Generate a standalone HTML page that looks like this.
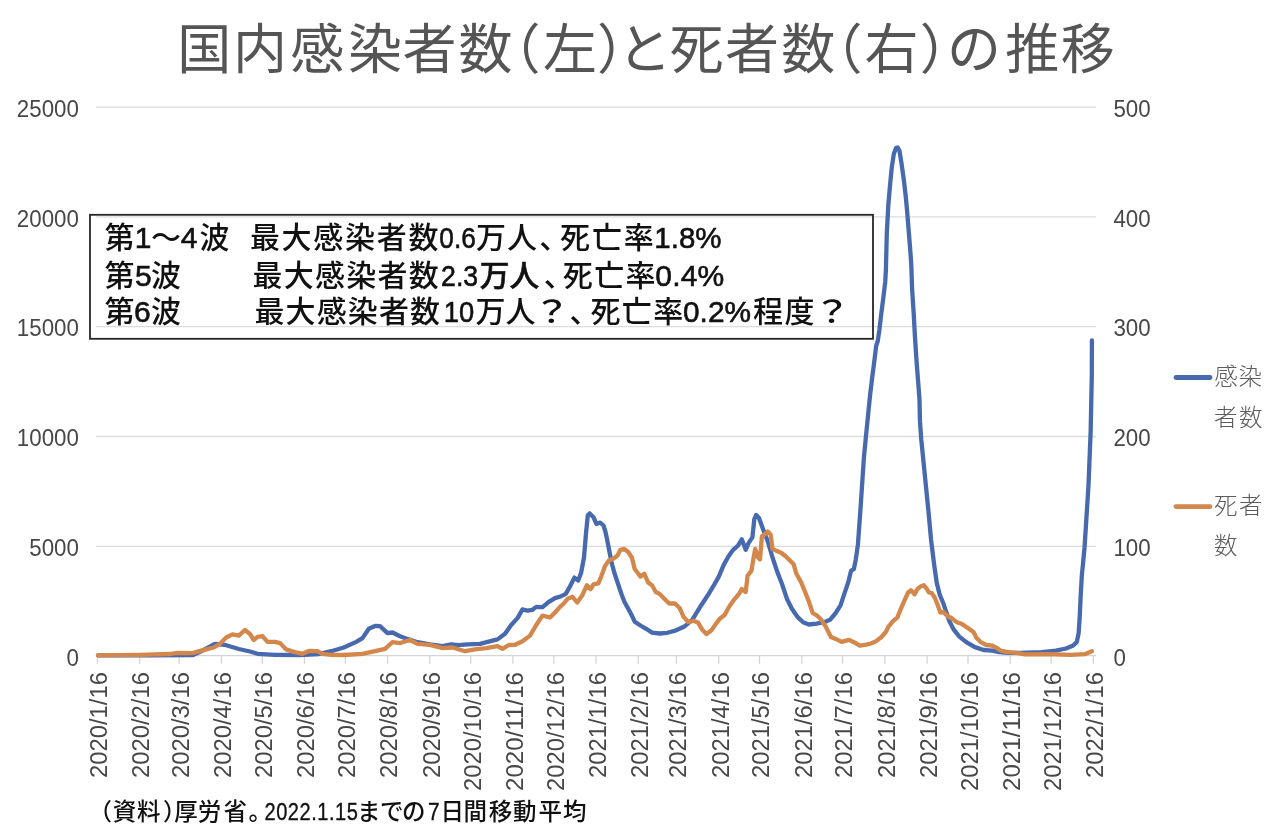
<!DOCTYPE html>
<html><head><meta charset="utf-8"><style>
html,body{margin:0;padding:0;background:#fff;width:1280px;height:835px;overflow:hidden}
svg{display:block}
.t{font-family:"Liberation Sans","Noto Sans CJK JP",sans-serif}
</style></head><body>
<svg width="1280" height="835" viewBox="0 0 1280 835">
<rect width="1280" height="835" fill="#fff"/>
<g stroke="#dcdcdc" stroke-width="1.3"><line x1="96" y1="546.3" x2="1096" y2="546.3"/><line x1="96" y1="436.5" x2="1096" y2="436.5"/><line x1="96" y1="326.7" x2="1096" y2="326.7"/><line x1="96" y1="216.9" x2="1096" y2="216.9"/><line x1="96" y1="107.1" x2="1096" y2="107.1"/></g>
<g stroke="#d4d4d4" stroke-width="1.3"><line x1="96" y1="655.7" x2="1096" y2="655.7"/><line x1="97.4" y1="656.1" x2="97.4" y2="663.8"/><line x1="139.6" y1="656.1" x2="139.6" y2="663.8"/><line x1="179.1" y1="656.1" x2="179.1" y2="663.8"/><line x1="221.4" y1="656.1" x2="221.4" y2="663.8"/><line x1="262.3" y1="656.1" x2="262.3" y2="663.8"/><line x1="304.5" y1="656.1" x2="304.5" y2="663.8"/><line x1="345.4" y1="656.1" x2="345.4" y2="663.8"/><line x1="387.6" y1="656.1" x2="387.6" y2="663.8"/><line x1="429.8" y1="656.1" x2="429.8" y2="663.8"/><line x1="470.7" y1="656.1" x2="470.7" y2="663.8"/><line x1="512.9" y1="656.1" x2="512.9" y2="663.8"/><line x1="553.8" y1="656.1" x2="553.8" y2="663.8"/><line x1="596.0" y1="656.1" x2="596.0" y2="663.8"/><line x1="638.3" y1="656.1" x2="638.3" y2="663.8"/><line x1="676.4" y1="656.1" x2="676.4" y2="663.8"/><line x1="718.7" y1="656.1" x2="718.7" y2="663.8"/><line x1="759.5" y1="656.1" x2="759.5" y2="663.8"/><line x1="801.8" y1="656.1" x2="801.8" y2="663.8"/><line x1="842.6" y1="656.1" x2="842.6" y2="663.8"/><line x1="884.9" y1="656.1" x2="884.9" y2="663.8"/><line x1="927.1" y1="656.1" x2="927.1" y2="663.8"/><line x1="968.0" y1="656.1" x2="968.0" y2="663.8"/><line x1="1010.2" y1="656.1" x2="1010.2" y2="663.8"/><line x1="1051.1" y1="656.1" x2="1051.1" y2="663.8"/><line x1="1093.3" y1="656.1" x2="1093.3" y2="663.8"/></g>
<g class="t" font-family="'Liberation Sans','Noto Sans CJK JP',sans-serif" font-size="54" fill="#555"><text y="68.7" x="177.2 233.0 290.3 348.0 402.4 458.5 486.5 542.9 597.0 617.6 669.5 725.0 781.3 808.6 864.5 919.7 947.0 1005.3 1060.8">国内感染者数（左）と死者数（右）の推移</text></g>
<g class="t" font-size="24" fill="#474747"><text transform="translate(78.9,665.8) scale(0.93,1)" text-anchor="end">0</text><text transform="translate(78.9,556.0) scale(0.93,1)" text-anchor="end">5000</text><text transform="translate(78.9,446.2) scale(0.93,1)" text-anchor="end">10000</text><text transform="translate(78.9,336.4) scale(0.93,1)" text-anchor="end">15000</text><text transform="translate(78.9,226.6) scale(0.93,1)" text-anchor="end">20000</text><text transform="translate(78.9,116.8) scale(0.93,1)" text-anchor="end">25000</text><text transform="translate(1113.4,665.8) scale(0.93,1)">0</text><text transform="translate(1113.4,556.0) scale(0.93,1)">100</text><text transform="translate(1113.4,446.2) scale(0.93,1)">200</text><text transform="translate(1113.4,336.4) scale(0.93,1)">300</text><text transform="translate(1113.4,226.6) scale(0.93,1)">400</text><text transform="translate(1113.4,116.8) scale(0.93,1)">500</text></g>
<g class="t" font-size="23" fill="#474747"><text transform="translate(107.2,672) rotate(-90)" text-anchor="end" textLength="106" lengthAdjust="spacingAndGlyphs">2020/1/16</text><text transform="translate(149.4,672) rotate(-90)" text-anchor="end" textLength="106" lengthAdjust="spacingAndGlyphs">2020/2/16</text><text transform="translate(188.9,672) rotate(-90)" text-anchor="end" textLength="106" lengthAdjust="spacingAndGlyphs">2020/3/16</text><text transform="translate(231.2,672) rotate(-90)" text-anchor="end" textLength="106" lengthAdjust="spacingAndGlyphs">2020/4/16</text><text transform="translate(272.1,672) rotate(-90)" text-anchor="end" textLength="106" lengthAdjust="spacingAndGlyphs">2020/5/16</text><text transform="translate(314.3,672) rotate(-90)" text-anchor="end" textLength="106" lengthAdjust="spacingAndGlyphs">2020/6/16</text><text transform="translate(355.2,672) rotate(-90)" text-anchor="end" textLength="106" lengthAdjust="spacingAndGlyphs">2020/7/16</text><text transform="translate(397.4,672) rotate(-90)" text-anchor="end" textLength="106" lengthAdjust="spacingAndGlyphs">2020/8/16</text><text transform="translate(439.6,672) rotate(-90)" text-anchor="end" textLength="106" lengthAdjust="spacingAndGlyphs">2020/9/16</text><text transform="translate(480.5,672) rotate(-90)" text-anchor="end" textLength="119" lengthAdjust="spacingAndGlyphs">2020/10/16</text><text transform="translate(522.7,672) rotate(-90)" text-anchor="end" textLength="119" lengthAdjust="spacingAndGlyphs">2020/11/16</text><text transform="translate(563.6,672) rotate(-90)" text-anchor="end" textLength="119" lengthAdjust="spacingAndGlyphs">2020/12/16</text><text transform="translate(605.8,672) rotate(-90)" text-anchor="end" textLength="106" lengthAdjust="spacingAndGlyphs">2021/1/16</text><text transform="translate(648.1,672) rotate(-90)" text-anchor="end" textLength="106" lengthAdjust="spacingAndGlyphs">2021/2/16</text><text transform="translate(686.2,672) rotate(-90)" text-anchor="end" textLength="106" lengthAdjust="spacingAndGlyphs">2021/3/16</text><text transform="translate(728.5,672) rotate(-90)" text-anchor="end" textLength="106" lengthAdjust="spacingAndGlyphs">2021/4/16</text><text transform="translate(769.3,672) rotate(-90)" text-anchor="end" textLength="106" lengthAdjust="spacingAndGlyphs">2021/5/16</text><text transform="translate(811.6,672) rotate(-90)" text-anchor="end" textLength="106" lengthAdjust="spacingAndGlyphs">2021/6/16</text><text transform="translate(852.4,672) rotate(-90)" text-anchor="end" textLength="106" lengthAdjust="spacingAndGlyphs">2021/7/16</text><text transform="translate(894.7,672) rotate(-90)" text-anchor="end" textLength="106" lengthAdjust="spacingAndGlyphs">2021/8/16</text><text transform="translate(936.9,672) rotate(-90)" text-anchor="end" textLength="106" lengthAdjust="spacingAndGlyphs">2021/9/16</text><text transform="translate(977.8,672) rotate(-90)" text-anchor="end" textLength="119" lengthAdjust="spacingAndGlyphs">2021/10/16</text><text transform="translate(1020.0,672) rotate(-90)" text-anchor="end" textLength="119" lengthAdjust="spacingAndGlyphs">2021/11/16</text><text transform="translate(1060.9,672) rotate(-90)" text-anchor="end" textLength="119" lengthAdjust="spacingAndGlyphs">2021/12/16</text><text transform="translate(1103.1,672) rotate(-90)" text-anchor="end" textLength="106" lengthAdjust="spacingAndGlyphs">2022/1/16</text></g>
<rect x="90" y="214.8" width="783" height="124" fill="none" stroke="#262626" stroke-width="1.8"/>
<g font-family="'Liberation Sans','Noto Sans CJK JP',sans-serif" font-size="30" font-weight="500" fill="#111"><text x="104.4" y="248.0">第</text><text x="134.8" y="248.0" letter-spacing="0.0" stroke="#111" stroke-width="0.6">1</text><text x="151.1" y="248.0">～</text><text x="180.8" y="248.0" letter-spacing="0.0" stroke="#111" stroke-width="0.6">4</text><text x="199.6" y="248.0">波</text><text x="249.9" y="248.0" letter-spacing="1.72">最大感染者数</text><text transform="translate(439.33,248.0) scale(0.874,1)" stroke="#111" stroke-width="0.6">0.6</text><text x="476" y="248.0" letter-spacing="0.9">万人</text><text x="539.3" y="248.0">、</text><text x="560.1" y="248.0" letter-spacing="1.8">死亡率</text><text transform="translate(654.34,248.0) scale(0.982,1)" stroke="#111" stroke-width="0.6">1.8%</text><text x="104.4" y="285.5">第</text><text x="134.9" y="285.5" letter-spacing="0.0" stroke="#111" stroke-width="0.6">5</text><text x="151.1" y="285.5">波</text><text x="252.6" y="285.5" letter-spacing="1.22">最大感染者数</text><text transform="translate(441.11,285.5) scale(0.890,1)" stroke="#111" stroke-width="0.6">2.3</text><text transform="translate(479.71,285.5) scale(0.991,1)" stroke="#111" stroke-width="0.6">万人</text><text x="543.8" y="285.5">、</text><text x="562.8" y="285.5" letter-spacing="1.35">死亡率</text><text x="655.3" y="285.5" letter-spacing="0.167" stroke="#111" stroke-width="0.6">0.4%</text><text x="104.4" y="322.2">第</text><text x="133.9" y="322.2" letter-spacing="0.0" stroke="#111" stroke-width="0.6">6</text><text x="151.1" y="322.2">波</text><text x="254.4" y="322.2" letter-spacing="1.14">最大感染者数</text><text transform="translate(443.78,322.2) scale(0.910,1)" stroke="#111" stroke-width="0.6">10</text><text x="475.4" y="322.2">万人</text><text transform="translate(532.90,322.2) scale(1.25,1)">？</text><text x="569.5" y="322.2">、</text><text x="590.4" y="322.2" letter-spacing="1.4">死亡率</text><text transform="translate(683.01,322.2) scale(0.994,1)" stroke="#111" stroke-width="0.6">0.2%</text><text x="753.1" y="322.2" letter-spacing="1.3">程度</text><text transform="translate(813.30,322.2) scale(1.25,1)">？</text></g>
<g fill="none" stroke-linejoin="round" stroke-linecap="round" stroke-width="4.3">
<polyline stroke="#476aae" points="98.0,655.4 150.0,655.4 192.5,655.2 203.8,650.0 213.8,644.4 216.2,643.8 226.2,645.2 238.8,649.0 250.0,651.5 257.5,653.8 275.0,654.8 300.0,655.0 318.8,654.0 331.2,651.2 343.8,647.5 356.2,641.9 362.5,638.1 368.8,628.8 375.0,626.0 380.0,626.2 387.5,633.1 392.5,632.5 400.0,636.2 408.8,639.4 417.5,642.2 430.0,644.4 442.5,646.2 451.2,644.4 458.8,645.2 467.5,644.4 480.0,643.8 492.5,640.6 497.5,639.4 505.0,633.8 511.2,625.0 517.5,618.1 522.5,609.4 527.5,610.6 532.5,609.8 536.2,606.9 542.5,607.2 548.8,601.9 555.0,598.1 561.2,596.2 565.7,593.9 569.6,587.2 574.4,577.6 578.2,580.5 581.1,572.8 584.0,557.5 585.9,534.5 587.8,515.3 589.7,513.4 593.5,517.2 596.4,524.0 600.2,522.6 603.5,525.5 605.5,532.0 607.4,541.0 609.5,552.0 611.5,562.2 614.4,573.0 618.0,583.7 621.6,594.5 624.4,601.7 628.7,609.6 631.6,615.0 634.7,621.7 640.5,625.5 646.2,628.8 652.0,632.6 659.6,633.5 667.3,632.8 675.0,630.7 684.5,626.5 692.2,619.8 699.9,607.3 707.5,595.8 713.3,586.2 718.8,576.6 723.6,565.1 728.4,556.5 733.2,549.8 738.0,545.6 741.8,539.3 745.7,549.8 748.5,543.1 752.4,537.4 754.3,519.2 756.2,514.9 759.1,518.2 762.9,528.7 767.7,541.2 772.5,557.5 777.3,571.9 782.1,584.3 786.9,598.7 791.6,608.3 797.4,616.9 803.1,622.2 808.9,624.5 816.6,623.6 824.2,622.2 830.0,619.8 835.7,613.0 840.5,605.4 844.3,593.9 848.2,582.4 851.0,570.9 853.9,569.0 855.8,559.4 857.9,544.9 860.3,511.7 862.1,484.8 863.9,457.8 865.6,439.9 867.4,421.9 870.1,395.0 872.1,378.2 874.2,362.0 876.2,345.8 877.8,341.0 879.4,329.7 881.3,313.5 883.4,297.3 885.3,281.2 885.9,270.0 886.8,233.3 888.3,205.3 889.9,186.7 891.7,168.0 893.8,154.0 896.1,147.8 897.7,147.5 899.5,150.9 901.5,163.3 903.9,180.4 905.7,196.0 907.3,213.1 908.9,233.3 910.4,252.0 911.3,265.0 912.1,289.2 913.7,313.5 915.0,337.7 916.6,362.0 918.5,386.2 919.5,400.0 920.0,421.9 921.3,439.9 923.1,457.8 925.8,484.8 928.5,511.7 931.1,540.0 932.5,551.5 934.7,568.8 936.8,583.1 939.7,594.6 943.3,603.3 946.2,611.9 949.1,620.5 953.4,629.1 959.1,636.3 966.3,642.1 974.9,647.1 983.6,650.0 992.2,650.7 999.4,652.1 1008.0,652.9 1020.0,652.8 1041.5,652.1 1055.9,650.6 1066.0,648.5 1073.2,645.6 1076.8,642.0 1078.6,633.4 1079.6,619.0 1080.6,597.5 1081.8,575.9 1083.2,561.6 1084.5,548.0 1085.8,528.0 1088.5,485.2 1090.7,430.1 1091.8,375.0 1091.9,340.5"/>
<polyline stroke="#d4874a" points="98.0,655.4 138.8,654.8 170.0,654.0 177.5,652.8 192.5,653.1 201.2,650.6 213.8,647.5 220.0,643.8 226.2,637.5 232.5,634.4 238.8,635.6 245.0,630.0 250.0,634.0 253.8,640.0 257.5,636.9 262.5,636.2 267.5,641.9 275.0,641.9 280.0,643.1 286.2,649.4 293.8,651.9 302.5,653.8 308.8,651.0 317.5,651.2 322.5,653.8 331.2,654.8 343.8,655.0 362.5,653.8 375.0,651.2 385.0,648.8 392.5,642.2 400.0,643.1 405.0,641.5 410.0,640.0 417.5,643.8 430.0,644.8 442.5,648.1 452.5,647.5 465.0,651.2 475.0,649.4 486.2,648.1 497.5,646.2 502.5,648.8 508.8,645.0 515.0,644.8 522.5,641.2 530.0,635.6 536.2,625.0 542.5,615.6 550.0,617.5 555.0,612.5 560.0,606.9 563.8,603.5 567.7,598.7 572.5,596.8 577.2,602.5 582.0,595.8 586.8,585.3 590.7,589.1 593.5,584.3 598.3,583.3 601.2,576.6 605.0,566.1 608.9,560.4 613.6,558.4 617.5,555.6 620.4,549.8 624.2,548.9 628.0,551.7 631.9,557.5 634.7,569.0 637.6,572.8 640.5,576.6 644.3,573.8 648.1,582.4 652.0,585.3 655.8,592.0 659.6,593.9 664.4,598.7 669.2,603.5 675.0,603.5 679.8,608.3 683.6,616.9 688.4,622.2 693.2,620.7 698.0,622.6 702.7,630.3 706.6,634.1 711.4,630.3 716.2,623.6 719.8,618.8 724.6,615.0 729.4,606.3 734.2,599.6 739.0,593.9 741.8,589.1 745.7,592.0 747.6,575.7 751.4,570.9 753.3,559.4 755.2,548.9 758.1,557.5 760.0,559.4 761.9,536.4 764.8,534.5 767.7,531.6 770.6,534.5 772.5,548.9 776.3,550.8 781.1,552.7 785.9,556.5 790.7,561.3 793.6,564.2 796.4,573.8 801.2,582.4 805.1,592.0 808.9,601.6 812.7,613.0 817.5,615.9 821.3,619.8 826.1,627.4 830.9,637.0 835.7,638.9 841.5,641.8 849.1,639.9 854.9,642.7 859.7,645.6 866.4,644.7 871.0,643.5 875.8,641.4 881.5,637.0 885.8,632.0 888.7,626.3 893.0,621.2 897.3,617.6 900.2,610.4 904.5,600.4 908.1,592.5 911.0,590.3 914.6,594.3 917.4,588.9 921.0,586.3 923.9,585.3 926.8,588.9 928.9,592.5 931.8,593.2 934.7,597.5 937.6,604.7 940.4,612.6 943.3,611.9 947.6,616.2 951.9,618.3 956.3,621.9 962.0,624.1 966.3,627.0 970.6,629.9 973.5,632.0 976.4,637.8 980.7,642.1 986.4,645.0 992.2,645.7 996.5,647.8 1000.8,650.7 1008.0,652.1 1016.6,652.9 1025.3,654.3 1048.7,654.2 1070.3,654.9 1084.7,654.2 1091.8,651.3"/>
</g>
<g stroke-linecap="round" stroke-width="4.8">
<line x1="1176" y1="377.5" x2="1210" y2="377.5" stroke="#476aae"/>
<line x1="1176" y1="506.6" x2="1210" y2="506.6" stroke="#d4874a"/>
</g>
<g font-family="'Liberation Sans','Noto Sans CJK JP',sans-serif" font-size="23.5" font-weight="300" fill="#5c5c5c">
<text x="1214.3 1238.5" y="384.9">感染</text><text x="1213.9 1238.9" y="425.6">者数</text>
<text x="1213.9 1238.9" y="513.8">死者</text><text x="1213.9" y="554.3">数</text>
</g>
<g font-family="'Liberation Sans','Noto Sans CJK JP',sans-serif" font-size="23.5" font-weight="500" fill="#111">
<text y="820" x="88.4 112.75 137.1 162.9 174.2 197.7 223.4 248.4">（資料）厚労省。</text>
<text transform="translate(264.5,820) scale(0.86,1)" font-size="23.3" letter-spacing="0.62" stroke="#111" stroke-width="0.35">2022.1.15</text>
<text y="820" x="356.9 380 401.9">までの</text>
<text transform="translate(428,820) scale(0.9,1)" font-size="23.3" stroke="#111" stroke-width="0.35">7</text>
<text y="820" x="440.5 463.6 488.8 513.1 538.5 563.1">日間移動平均</text>
</g>
</svg>
</body></html>
